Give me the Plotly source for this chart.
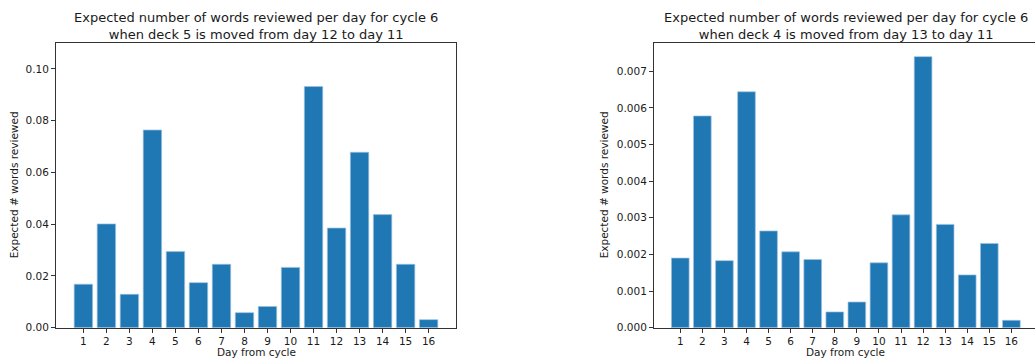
import plotly.graph_objects as go

days = list(range(1, 17))
left_values = [0.0168, 0.0401, 0.0129, 0.0764, 0.0294, 0.0174, 0.0245, 0.0058,
               0.0082, 0.0233, 0.0932, 0.0385, 0.0678, 0.0437, 0.0245, 0.0031]
right_values = [0.00190, 0.00578, 0.00183, 0.00644, 0.00264, 0.00207, 0.00186, 0.00043,
                0.00070, 0.00177, 0.00308, 0.00740, 0.00282, 0.00144, 0.00230, 0.00020]
left_title = "Expected number of words reviewed per day for cycle 6<br>when deck 5 is moved from day 12 to day 11"
right_title = "Expected number of words reviewed per day for cycle 6<br>when deck 4 is moved from day 13 to day 11"
x_label = "Day from cycle"
y_label = "Expected # words reviewed"

W, H = 1035, 360
K = 1.019
def xp(p): return p / W
def yp(p): return 1 - p * K / H

FONT = "DejaVu Sans"
BLUE = "#1f77b4"
TXT = "#1a1a1a"
AX = "#333333"

fig = go.Figure()
fig.add_trace(go.Bar(x=days, y=left_values, marker=dict(color=BLUE, line=dict(color="#9cc1e0", width=0.7)),
                     xaxis="x", yaxis="y", showlegend=False, width=0.8))
fig.add_trace(go.Bar(x=days, y=right_values, marker=dict(color=BLUE, line=dict(color="#9cc1e0", width=0.7)),
                     xaxis="x2", yaxis="y2", showlegend=False, width=0.8))

ydom = [yp(327), yp(43)]
common_x = dict(tickmode="array", tickvals=days, ticktext=[str(d) for d in days],
                ticks="outside", ticklen=4, tickcolor=AX, showline=True, linecolor=AX, linewidth=1,
                mirror=True, showgrid=False, zeroline=False,
                tickfont=dict(family=FONT, size=10.5, color=TXT))
common_y = dict(ticks="outside", ticklen=4, tickcolor=AX, showline=True, linecolor=AX, linewidth=1,
                showgrid=False, zeroline=False, tickfont=dict(family=FONT, size=10.5, color=TXT))

fig.update_layout(
    width=W, height=H, margin=dict(l=0, r=0, t=0, b=0),
    paper_bgcolor="white", plot_bgcolor="white",
    xaxis=dict(domain=[xp(56), xp(456)], range=[-0.19, 17.19], anchor="y", **common_x),
    yaxis=dict(domain=ydom, range=[0, 0.11], dtick=0.02, tickformat=".2f", anchor="x", mirror=True, **common_y),
    xaxis2=dict(domain=[xp(654), 1.0], range=[-0.19, 17.07], anchor="y2", **common_x),
    yaxis2=dict(domain=ydom, range=[0, 0.00777], dtick=0.001, tickformat=".3f", anchor="x2", mirror=False, **common_y),
    bargap=0.2,
)

ann = []
for cx, title in [((56 + 456) / 2, left_title), ((654 + 1037) / 2, right_title)]:
    ann.append(dict(x=xp(cx), y=yp(43.5), xref="paper", yref="paper", xanchor="center", yanchor="bottom",
                    text=title, showarrow=False, font=dict(family=FONT, size=13, color=TXT)))
for cx in [(56 + 456) / 2, (654 + 1037) / 2]:
    ann.append(dict(x=xp(cx), y=yp(351), xref="paper", yref="paper", xanchor="center", yanchor="middle",
                    text=x_label, showarrow=False, font=dict(family=FONT, size=10.5, color=TXT)))
for lx in [14, 604]:
    ann.append(dict(x=xp(lx), y=yp(185), xref="paper", yref="paper", xanchor="center", yanchor="middle",
                    text=y_label, textangle=-90, showarrow=False, font=dict(family=FONT, size=10.5, color=TXT)))
fig.update_layout(annotations=ann)

fig.write_html("out.html", config={"displayModeBar": False},
               post_script="document.body.style.margin='0';document.body.style.overflow='hidden';")
